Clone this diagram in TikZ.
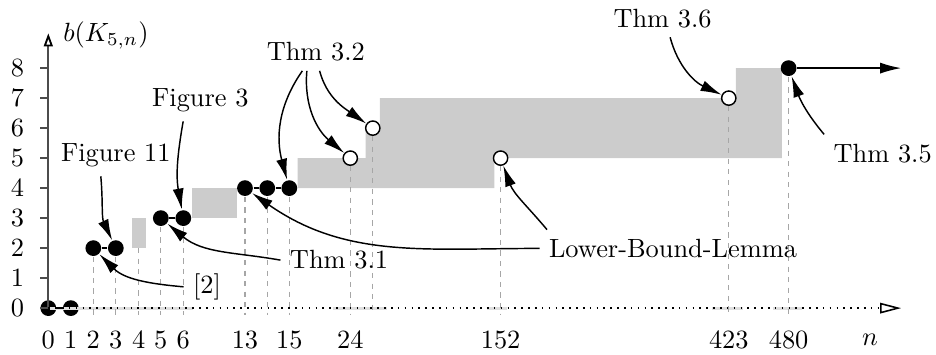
\documentclass[tikz,border=0pt]{standalone}
\usetikzlibrary{arrows.meta}
\begin{document}
\begin{tikzpicture}[
    x=0.3cm, y=0.4cm,
    every path/.style={>={Latex[length=8pt,width=4.2pt]}},
    line width=0.55pt,
    dot/.style={circle,fill=black,inner sep=0pt,minimum size=0.21cm},
    hole/.style={circle,draw=black,fill=white,inner sep=0pt,minimum size=0.19cm},
    guide/.style={gray!70,line width=0.5pt,dash pattern=on 2pt off 2pt},
    area/.style={fill=gray!40},
    axis/.style={black!70,line width=0.7pt},
    ref/.style={->}
    ]
    \useasboundingbox (-2.147,-1.533) rectangle (39.45,10.27);

    % shaded ranges
    \fill[area] (3.7,2) rectangle (4.34,3);
    \fill[area] (6.37,3) rectangle (8.37,4);
    \fill[area] (11.08,4) -| (19.82,5) -| (32.6,8) -| (30.56,7) -| (14.74,6) -| (14.1,5) -- (11.08,5) -- cycle;

    % nodes
    \node[dot] (a0) at (0,0) {};
    \node[dot] (a1) at (1,0) {};
    \node[dot] (a2) at (2,2) {};
    \node[dot] (a3) at (3,2) {};
    \node[dot] (a5) at (5,3) {};
    \node[dot] (a6) at (6,3) {};
    \node[dot] (a13) at (8.74,4) {};
    \node[dot] (a14) at (9.73,4) {};
    \node[dot] (a15) at (10.71,4) {};
    \node[hole] (h24) at (13.42,5) {};
    \node[hole] (h26) at (14.42,6) {};
    \node[hole] (h152) at (20.1,5) {};
    \node[hole] (h423) at (30.24,7) {};
    \node[dot] (a480) at (32.9,8) {};

    \coordinate (o) at (0,0);
    \coordinate (foot) at (0,-0.23);
    \coordinate (b4) at (4.02,2);
    \coordinate (ytip) at (0,9.16);
    \coordinate (xtip) at (37.9,0);
    \coordinate (rtip) at (37.9,8);

    % axes
    \draw[gray!25,line width=1.2pt] (0.08,0) -- (6.43,0);
    \draw[gray!25,line width=1.2pt] (12.65,0) -- (15.05,0);
    \draw[gray!25,line width=1.2pt] (19.5,0) -- (20.4,0);
    \draw[gray!25,line width=1.2pt] (29.5,0) -- (30.87,0);
    \draw[gray!25,line width=1.2pt] (32.2,0) -- (33.5,0);

    \foreach \p in {a2,a3,b4,a5,a6,a13,a14,a15,h24,h26,h152,h423,a480}
        \draw[guide] (\p) -- (\p |- foot);

    \draw[axis,-{Triangle[open,length=5pt,width=3.4pt,color=black]}] (o) -- (ytip);
    \draw[dotted,line width=0.6pt,-{Triangle[open,length=8pt,width=4pt]}] (o) -- (xtip);

    \foreach \k in {0,...,8} {
        \draw[axis] (0,\k) -- (-0.37,\k);
        \node (y\k) at (-1.37,\k) {$\k$};
    }
    \foreach \s/\t in {0/0,1/1,2/2,3/3,4.02/4,5/5,6/6,8.74/13,10.71/15,13.42/24,20.1/152,30.24/423,32.9/480}
        \node (x\t) at (\s,-1.07) {$\t$};
    \node (xlab) at (36.52,-1.07) {$n$};
    \node (ylab) at (2.56,9.1) {$b(K_{5,n})$};

    % edges
    \draw (a0) -- (a1);
    \draw (a2) -- (a3);
    \draw (a5) -- (a6);
    \draw (a13) -- (a14) -- (a15);
    \draw[->] (a480) -- (rtip);

    % labels
    \node (fig11) at (3,5.1) {Figure 11};
    \node (fig3) at (6.76,6.93) {Figure 3};
    \node (cite) at (7.05,0.71) {[2]};
    \node (thm31) at (12.92,1.6) {Thm 3.1};
    \node (thm32) at (11.89,8.54) {Thm 3.2};
    \node (lbl) at (27.76,1.99) {Lower-Bound-Lemma};
    \node (thm36) at (27.3,9.66) {Thm 3.6};
    \node (thm35) at (37.08,5.16) {Thm 3.5};

    \draw[ref] ([xshift=-2mm]fig11.south) to[out=-85,in=115] (a3);
    \draw[ref] ([xshift=-2.3mm]fig3.south) to[out=-100,in=100] (a6);
    \draw[ref] (cite.west) to[out=175,in=-45] (a2);
    \draw[ref] (thm31.west) to[out=170,in=-40] (a5);
    \draw[ref] ([xshift=-1.8mm]thm32.south) to[out=-125,in=105] (a15);
    \draw[ref] ([xshift=-1.2mm]thm32.south) to[out=-95,in=140] (h24);
    \draw[ref] ([xshift=0.5mm]thm32.south) to[out=-75,in=145] (h26);
    \draw[ref] (lbl.west) to[out=180,in=-35] (a13);
    \draw[ref] ([xshift=1mm]lbl.north west) to[out=130,in=-70] (h152);
    \draw[ref] ([xshift=1mm]thm36.south) to[out=-75,in=155] (h423);
    \draw[ref] (thm35.north west) to[out=130,in=-70] (a480);

\end{tikzpicture}
\end{document}
